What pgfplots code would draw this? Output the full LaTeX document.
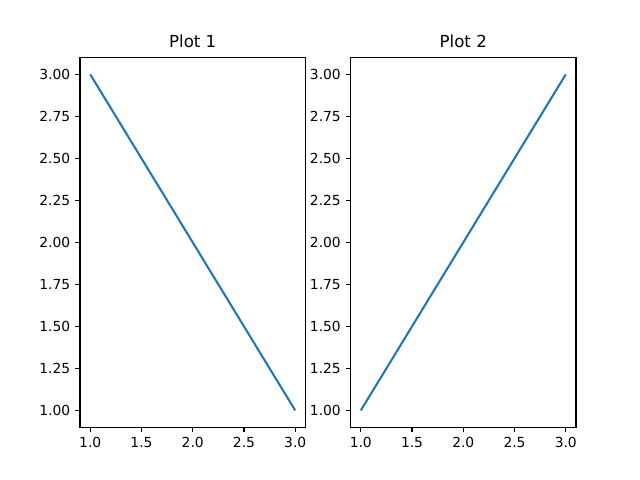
\documentclass[border=0pt]{standalone}
\usepackage{pgfplots}
\pgfplotsset{compat=1.18}
\usepackage{fontspec}
\setmainfont{DejaVu Sans}
\definecolor{tabblue}{HTML}{1F77B4}
\pgfplotsset{
  mpl/.style={
    scale only axis,
    width=162.33bp, height=266.11bp,
    anchor=south west,
    xmin=0.9, xmax=3.1, ymin=0.9, ymax=3.1,
    xtick={1,1.5,2,2.5,3},
    ytick={1,1.25,1.5,1.75,2,2.25,2.5,2.75,3},
    xtick pos=bottom, ytick pos=left,
    tick align=outside,
    major tick length=3.5bp,
    tick style={black, line width=0.8bp},
    axis line style={line width=0.8bp},
    minor tick num=0,
    tick label style={font=\fontsize{10}{12}\selectfont},
    /pgf/number format/assume math mode=true,
    xticklabel style={/pgf/number format/.cd, fixed, fixed zerofill, precision=1},
    yticklabel style={/pgf/number format/.cd, fixed, fixed zerofill, precision=2},
    scaled ticks=false,
    every axis title shift=0pt,
    title style={at={(0.5,1)}, anchor=base, yshift=7.4bp, font=\fontsize{12}{14}\selectfont},
  }
}
\begin{document}
\begin{tikzpicture}
\path[use as bounding box] (0,0) rectangle (460.8bp,345.6bp);
\begin{axis}[mpl, at={(57.6bp,38.016bp)}, title={Plot 1}]
\addplot[tabblue, line width=1.5bp] coordinates {(1,3) (2,2) (3,1)};
\end{axis}
\begin{axis}[mpl, at={(252.39bp,38.016bp)}, title={Plot 2}]
\addplot[tabblue, line width=1.5bp] coordinates {(1,1) (2,2) (3,3)};
\end{axis}
\end{tikzpicture}
\end{document}
